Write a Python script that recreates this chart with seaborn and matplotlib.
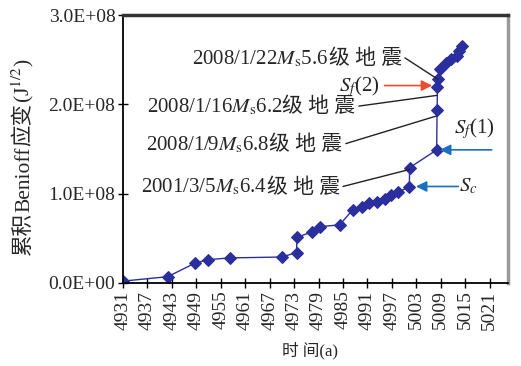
import matplotlib
matplotlib.use("Agg")
import matplotlib.pyplot as plt
from matplotlib.transforms import offset_copy
import seaborn as sns
import pandas as pd

# cumulative Benioff strain (x in the chart's own year labels)
years = [4931.0, 4942.0, 4948.6, 4951.8, 4957.2, 4970.0, 4973.6, 4973.7, 4977.3, 4979.3,
         4984.2, 4987.4, 4989.6, 4991.5, 4993.3, 4995.2, 4996.9, 4998.4, 5001.3, 5001.35,
         5008.0, 5008.1, 5008.2, 5008.3, 5008.8, 5010.2, 5011.6, 5012.9, 5013.6, 5014.3]
strain_e8 = [0.02, 0.07, 0.22, 0.26, 0.28, 0.29, 0.34, 0.51, 0.57, 0.63,
             0.65, 0.82, 0.85, 0.90, 0.91, 0.94, 0.99, 1.02, 1.07, 1.29,
             1.49, 1.94, 2.19, 2.28, 2.39, 2.46, 2.51, 2.54, 2.60, 2.65]
xticks = list(range(4931, 5022, 6))
yticks = [0, 1e8, 2e8, 3e8]

df = pd.DataFrame({"year": years, "strain": [v * 1e8 for v in strain_e8]})

sns.set_theme(style="ticks")
plt.rcParams["font.family"] = ["Liberation Serif", "Noto Sans CJK SC"]
plt.rcParams["mathtext.fontset"] = "stix"

NAVY = "#2b2f9e"
BLUE = "#1b6fc2"
RED = "#e84e2e"

fig = plt.figure(figsize=(5.21, 3.66), dpi=100)
ax = fig.add_axes([0.236, 0.227, 0.739, 0.732])
renderer = fig.canvas.get_renderer()

sns.lineplot(data=df, x="year", y="strain", ax=ax, sort=False, estimator=None,
             color=NAVY, lw=1.0, marker="D", markersize=6,
             markeredgecolor=NAVY, markerfacecolor=NAVY)

ax.set_xlim(4931, 5025.5)
ax.set_ylim(0, 3e8)
ax.set_xticks(xticks)
ax.set_xticklabels([str(t) for t in xticks], rotation=90, fontsize=14)
ax.set_yticks(yticks)
ax.set_yticklabels([f"{v:.1E}" for v in yticks], fontsize=14)
ax.tick_params(direction="inout", length=7, width=1, color="black", pad=2)

for s in ["left", "bottom"]:
    ax.spines[s].set_color("black")
    ax.spines[s].set_linewidth(1.3)
ax.spines["top"].set_color("#333333")
ax.spines["top"].set_linewidth(2.5)
ax.spines["right"].set_color("#999999")
ax.spines["right"].set_linewidth(2.5)

ax.set_ylabel("")
ax.set_xlabel("时 间(a)", fontsize=12)
ax.xaxis.set_label_coords(0.486, -0.22)


# mathtext can't fall back to the CJK font, so mixed strings are drawn piece by piece
def chain(x, y, parts, transform, fontsize, align="right", vertical=False):
    arts = []
    for p in parts:
        t = fig.text(0, 0, p, fontsize=fontsize, ha="left", va="baseline",
                     rotation=90 if vertical else 0, rotation_mode="anchor")
        arts.append(t)
    sizes = []
    for t in arts:
        ext = t.get_window_extent(renderer)
        sizes.append(ext.height if vertical else ext.width)
    total = sum(sizes)
    start = -total if align == "right" else (-total / 2 if align == "center" else 0)
    off = start
    for t, sz in zip(arts, sizes):
        t.set_position((x, y))
        if vertical:
            t.set_transform(offset_copy(transform, fig=fig, y=off, units="dots"))
        else:
            t.set_transform(offset_copy(transform, fig=fig, x=off, units="dots"))
        off += sz
    return arts


line = dict(arrowstyle="-", color="#222222", lw=1.0, shrinkA=0, shrinkB=0)
quakes = [
    # (text right edge x, baseline y, date, magnitude, point x, point y)
    (4999.4, 2.45e8, "2008/1/22", "5.6", 5008.3, 2.28e8),
    (4988.1, 1.91e8, "2008/1/16", "6.2", 5008.05, 2.10e8),
    (4984.9, 1.49e8, "2008/1/9", "6.8", 5008.0, 1.87e8),
    (4984.2, 1.01e8, "2001/3/5", "6.4", 5001.3, 1.27e8),
]
for xr, yb, date, mag, px, py in quakes:
    chain(xr, yb, [date + "$M_{\\rm s}$" + mag, "级 地 震"], ax.transData, 15)
    ax.annotate("", xy=(px, py), xytext=(xr + 0.8, yb + 0.07e8), arrowprops=line)

chain(4994.0, 2.15e8, ["$S_f$(2)"], ax.transData, 15)
ax.annotate("", xy=(5006.9, 2.21e8), xytext=(4995.2, 2.21e8),
            arrowprops=dict(arrowstyle="-|>", color=RED, lw=1.2,
                            mutation_scale=16, shrinkA=0, shrinkB=0))

chain(5012.2, 1.67e8, ["$S_f$(1)"], ax.transData, 15, align="left")
ax.annotate("", xy=(5008.8, 1.49e8), xytext=(5021.5, 1.49e8),
            arrowprops=dict(arrowstyle="-|>", color=BLUE, lw=1.2,
                            mutation_scale=16, shrinkA=0, shrinkB=0))

chain(5013.6, 1.03e8, ["$S_c$"], ax.transData, 15, align="left")
ax.annotate("", xy=(5002.9, 1.08e8), xytext=(5013.3, 1.08e8),
            arrowprops=dict(arrowstyle="-|>", color=BLUE, lw=1.2,
                            mutation_scale=16, shrinkA=0, shrinkB=0))

# rotated y label: 累积Benioff应变(J^1/2)
chain(29 / 521, 1 - 157 / 366, ["累积", "Benioff", "应变", "(J$^{1/2}$)"],
      fig.transFigure, 15.5, align="center", vertical=True)

fig.savefig("out.png", dpi=100)
